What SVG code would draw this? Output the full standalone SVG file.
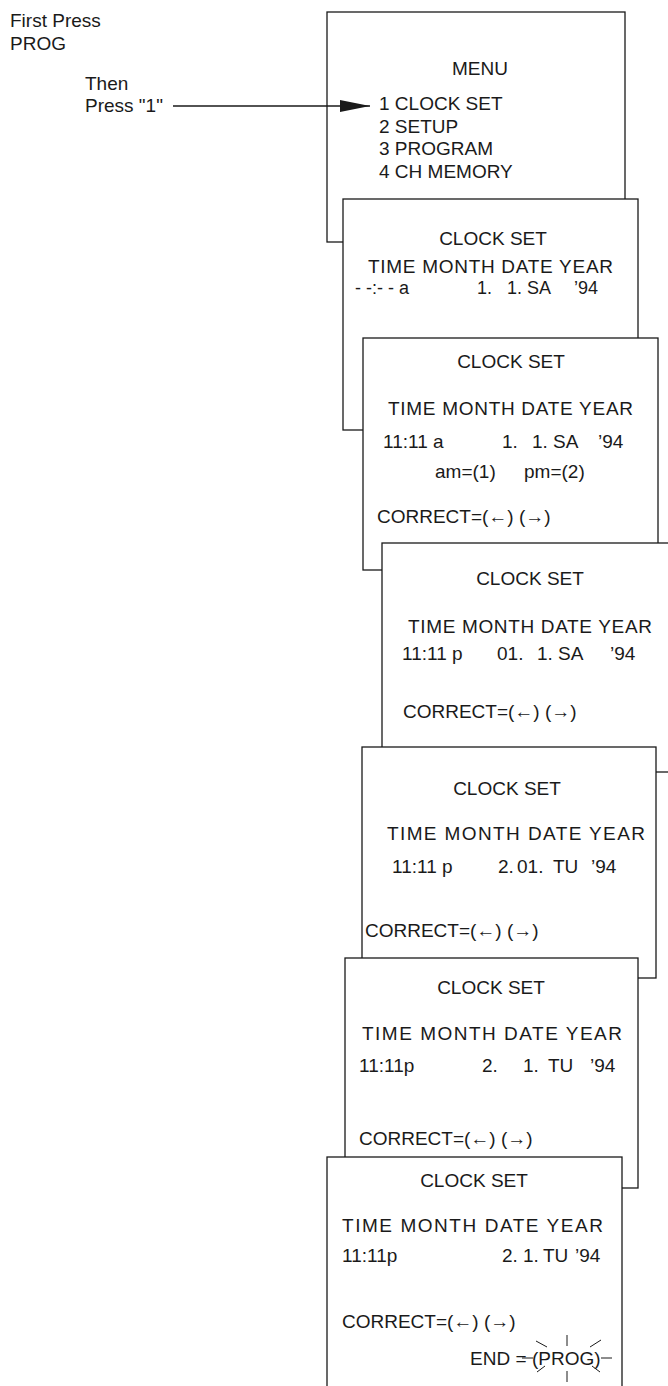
<svg xmlns="http://www.w3.org/2000/svg" width="668" height="1386" viewBox="0 0 668 1386">
<style>
.t{font-family:"Liberation Sans",Arial,sans-serif;font-size:19px;fill:#1a1a1a}
.s{font-size:18px}
.c{text-anchor:middle}
.box{fill:#fff;stroke:#1a1a1a;stroke-width:1.3}
.ln{stroke:#1a1a1a;stroke-width:1.3;fill:none}
.thin{stroke:#1a1a1a;stroke-width:1;fill:none}
</style>
<defs>
<marker id="ah" markerWidth="30" markerHeight="12" refX="30" refY="6" orient="auto" markerUnits="userSpaceOnUse">
<path d="M0,0 L30,6 L0,12 Z" fill="#1a1a1a"/>
</marker>
</defs>
<rect width="668" height="1386" fill="#fff"/>

<g id="instructions">
<text class="t" x="10" y="27">First Press</text>
<text class="t" x="10" y="50">PROG</text>
<text class="t" x="85" y="90">Then</text>
<text class="t" x="85" y="112">Press "1"</text>
</g>

<g id="panel-menu">
<rect class="box" x="327" y="12" width="298" height="230"/>
<text class="t c" x="480" y="75">MENU</text>
<text class="t" x="379" y="110">1 CLOCK SET</text>
<text class="t" x="379" y="132.5">2 SETUP</text>
<text class="t" x="379" y="155">3 PROGRAM</text>
<text class="t" x="379" y="178">4 CH MEMORY</text>
</g>

<g id="connectors">
<line class="ln" x1="173" y1="106" x2="370" y2="106" marker-end="url(#ah)"/>
</g>

<g id="panel-clock1">
<rect class="box" x="343" y="199" width="295" height="231"/>
<text class="t c" x="493" y="245">CLOCK SET</text>
<text class="t" x="368" y="273" textLength="245" lengthAdjust="spacing">TIME MONTH DATE YEAR</text>
<text class="t s" y="293.5"><tspan x="355">- -:- - a</tspan><tspan x="477">1.</tspan><tspan x="507">1. SA</tspan><tspan x="574">’94</tspan></text>
</g>

<g id="panel-clock2">
<rect class="box" x="363" y="338" width="295" height="232"/>
<text class="t c" x="511" y="368">CLOCK SET</text>
<text class="t" x="388" y="415" textLength="245" lengthAdjust="spacing">TIME MONTH DATE YEAR</text>
<text class="t" y="448"><tspan x="383">11:11 a</tspan><tspan x="502">1.</tspan><tspan x="532">1. SA</tspan><tspan x="598">’94</tspan></text>
<text class="t" y="478"><tspan x="435">am=(1)</tspan><tspan x="524">pm=(2)</tspan></text>
<text class="t" x="377" y="523">CORRECT=(←) (→)</text>
</g>

<g id="panel-clock3">
<rect class="box" x="382" y="543" width="300" height="229"/>
<text class="t c" x="530" y="585">CLOCK SET</text>
<text class="t" x="408" y="633" textLength="244" lengthAdjust="spacing">TIME MONTH DATE YEAR</text>
<text class="t" y="660"><tspan x="402">11:11 p</tspan><tspan x="497">01.</tspan><tspan x="537">1. SA</tspan><tspan x="610">’94</tspan></text>
<text class="t" x="403" y="718">CORRECT=(←) (→)</text>
</g>

<g id="panel-clock4">
<rect class="box" x="362" y="747" width="294" height="231"/>
<text class="t c" x="507" y="795">CLOCK SET</text>
<text class="t" x="387" y="840" textLength="258" lengthAdjust="spacing">TIME MONTH DATE YEAR</text>
<text class="t" y="873"><tspan x="392">11:11 p</tspan><tspan x="498">2.</tspan><tspan x="517">01.</tspan><tspan x="553">TU</tspan><tspan x="591">’94</tspan></text>
<text class="t" x="365" y="937">CORRECT=(←) (→)</text>
</g>

<g id="panel-clock5">
<rect class="box" x="345" y="958" width="293" height="230"/>
<text class="t c" x="491" y="994">CLOCK SET</text>
<text class="t" x="362" y="1040" textLength="260" lengthAdjust="spacing">TIME MONTH DATE YEAR</text>
<text class="t" y="1072"><tspan x="359">11:11p</tspan><tspan x="482">2.</tspan><tspan x="523">1.</tspan><tspan x="548">TU</tspan><tspan x="590">’94</tspan></text>
<text class="t" x="359" y="1145">CORRECT=(←) (→)</text>
</g>

<g id="panel-clock6">
<rect class="box" x="327" y="1157" width="295" height="245"/>
<text class="t c" x="474" y="1187">CLOCK SET</text>
<text class="t" x="342" y="1232" textLength="261" lengthAdjust="spacing">TIME MONTH DATE YEAR</text>
<text class="t" y="1262"><tspan x="342">11:11p</tspan><tspan x="502">2.</tspan><tspan x="523">1.</tspan><tspan x="543">TU</tspan><tspan x="575">’94</tspan></text>
<text class="t" x="342" y="1328">CORRECT=(←) (→)</text>
<text class="t" x="470" y="1365">END =</text>
<text class="t" x="532" y="1365">(PROG)</text>
<line class="thin" x1="522" y1="1358" x2="533" y2="1358"/>
<line class="thin" x1="601" y1="1358" x2="612" y2="1358"/>
<line class="thin" x1="536" y1="1341" x2="547" y2="1347"/>
<line class="thin" x1="590" y1="1347" x2="601" y2="1340"/>
<line class="thin" x1="567" y1="1335" x2="567" y2="1346"/>
<line class="thin" x1="567" y1="1371" x2="567" y2="1382"/>
<line class="thin" x1="537" y1="1372" x2="545" y2="1366"/>
<line class="thin" x1="592" y1="1366" x2="600" y2="1372"/>
</g>
</svg>
